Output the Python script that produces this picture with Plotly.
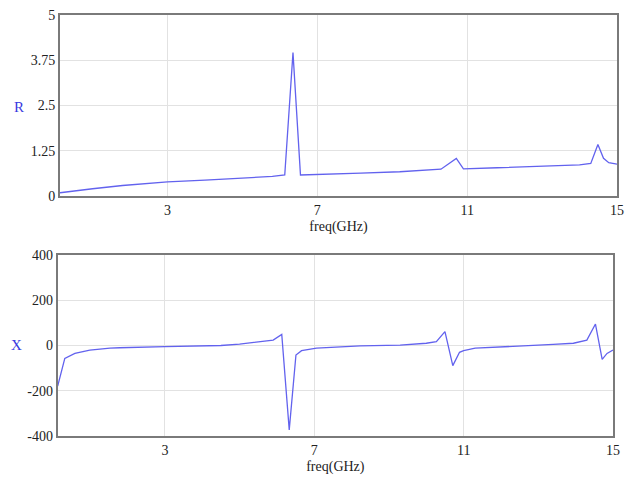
import plotly.graph_objects as go

# Top panel: R vs freq
freq_r = [0.13, 0.5, 1.0, 1.8, 2.5, 3.0, 4.0, 5.0, 5.8, 6.13, 6.35, 6.55, 7.0, 8.16, 9.2,
          10.3, 10.71, 10.9, 11.8, 13.2, 14.0, 14.3, 14.49, 14.64, 14.78, 15.0]
r_vals = [0.09, 0.14, 0.20, 0.29, 0.35, 0.39, 0.44, 0.49, 0.54, 0.58, 3.96, 0.58, 0.59, 0.63, 0.67,
          0.74, 1.04, 0.75, 0.78, 0.84, 0.86, 0.90, 1.42, 1.04, 0.92, 0.88]

# Bottom panel: X vs freq
freq_x = [0.13, 0.32, 0.59, 0.99, 1.53, 1.79, 3.0, 4.5, 5.0, 5.9, 6.13, 6.33, 6.51, 6.66, 7.06,
          8.23, 9.3, 10.0, 10.27, 10.5, 10.71, 10.89, 11.0, 11.31, 13.4, 13.94, 14.3, 14.53,
          14.71, 14.84, 15.0]
x_vals = [-179, -57, -35, -20, -12, -10, -5, 0, 6, 24, 49, -373, -42, -23, -12,
          -2, 2, 10, 17, 61, -89, -30, -23, -12, 5, 10, 24, 95,
          -61, -35, -20]

x_tickvals = [3, 7, 11, 15]
r_tickvals = [0, 1.25, 2.5, 3.75, 5]
r_ticktext = ["0", "1.25", "2.5", "3.75", "5"]
x_tickvals_y = [-400, -200, 0, 200, 400]

W, H = 626, 477


def px(x):
    return x / W


def py(y):
    return 1 - y / H


line_color = "#6262ee"
FAM = "Liberation Serif, Times New Roman, Tinos, DejaVu Serif, serif"
font = dict(family=FAM, size=14, color="#222222")

fig = go.Figure()
fig.add_trace(go.Scatter(x=freq_r, y=r_vals, mode="lines", xaxis="x", yaxis="y",
                         line=dict(color=line_color, width=1.3), showlegend=False))
fig.add_trace(go.Scatter(x=freq_x, y=x_vals, mode="lines", xaxis="x2", yaxis="y2",
                         line=dict(color=line_color, width=1.3), showlegend=False))

axis_common = dict(showgrid=True, gridcolor="#e2e2e2", gridwidth=1, zeroline=False,
                   showline=True, linecolor="#7a7a7a", linewidth=2, mirror=True,
                   ticks="", tickfont=font, automargin=False, ticklabeloverflow="allow")

fig.update_layout(
    width=W, height=H,
    margin=dict(l=0, r=0, t=0, b=0),
    paper_bgcolor="white", plot_bgcolor="white",
    font=font,
    xaxis=dict(domain=[px(60), px(617)], anchor="y", range=[0.13, 15],
               tickvals=x_tickvals, ticktext=[str(v) for v in x_tickvals],
               title=dict(text="freq(GHz)", font=font, standoff=4), **axis_common),
    yaxis=dict(domain=[py(196), py(15)], anchor="x", range=[0, 5],
               tickvals=r_tickvals, ticktext=r_ticktext, **axis_common),
    xaxis2=dict(domain=[px(57.7), px(613)], anchor="y2", range=[0.13, 15],
                tickvals=x_tickvals, ticktext=[str(v) for v in x_tickvals],
                title=dict(text="freq(GHz)", font=font, standoff=4), **axis_common),
    yaxis2=dict(domain=[py(436), py(255)], anchor="x2", range=[-400, 400],
                tickvals=x_tickvals_y, ticktext=[str(v) for v in x_tickvals_y], **axis_common),
    annotations=[
        dict(text="R", xref="paper", yref="paper", x=px(19), y=py(107),
             xanchor="center", yanchor="middle",
             showarrow=False, font=dict(family=FAM, size=15, color="#3a3ae0")),
        dict(text="X", xref="paper", yref="paper", x=px(16), y=py(345),
             xanchor="center", yanchor="middle",
             showarrow=False, font=dict(family=FAM, size=15, color="#3a3ae0")),
    ],
)

fig.write_html(
    "out.html",
    config={"displayModeBar": False},
    post_script="document.body.style.margin='0';document.body.style.overflow='hidden';",
)
